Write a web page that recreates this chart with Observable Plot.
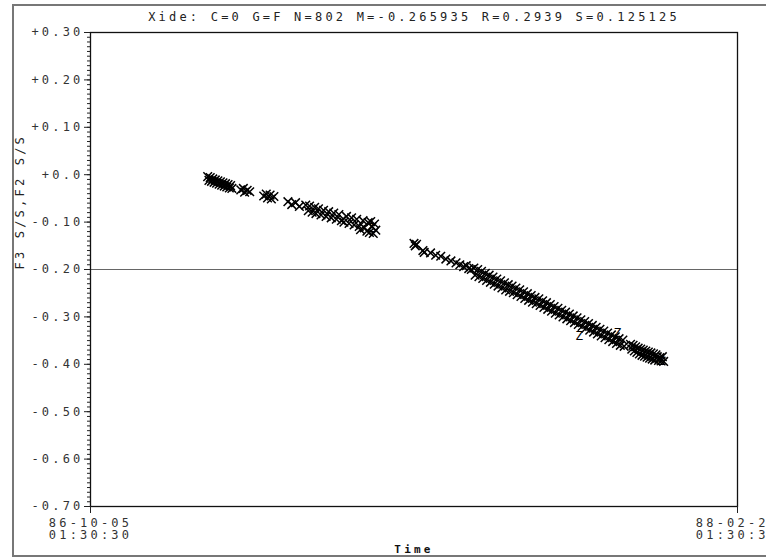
<!DOCTYPE html>
<html><head><meta charset="utf-8">
<script src="https://cdn.jsdelivr.net/npm/d3@7"></script>
<script src="https://cdn.jsdelivr.net/npm/@observablehq/plot@0.6"></script>
<style>
body{margin:0;background:#fff;overflow:hidden;width:766px;height:557px;}
#frame{position:absolute;left:12px;top:4px;width:800px;height:553px;border:2px solid #777;box-sizing:border-box;}
#chart{position:absolute;left:0;top:0;}
</style></head><body>
<div id="frame"></div>
<div id="chart"></div>
<script>
const titleText = "Xide: C=0 G=F N=802 M=-0.265935 R=0.2939 S=0.125125";
const yLabel = "F3 S/S,F2 S/S";
const xLabel = "Time";
const startDate = new Date(1986, 9, 5, 1, 30, 30);
const endDate = new Date(1988, 1, 25, 1, 30, 30);
const xTickLabels = ["86-10-05\n01:30:30", "88-02-25\n01:30:30"];
const yTicks = [0.3, 0.2, 0.1, 0.0, -0.1, -0.2, -0.3, -0.4, -0.5, -0.6, -0.7];
const yTickLabels = ["+0.30", "+0.20", "+0.10", "+0.0", "-0.10", "-0.20", "-0.30", "-0.40", "-0.50", "-0.60", "-0.70"];
const refLine = -0.2;

// F3 S/S (x markers): days after start, values
const f3Days = [
  92,93,94,95,96,97,98,99,100,101,102,103,104,105,106,107,108,109,110,111,
  118,120,121,123,125,
  136,138,139,141,142,144,
  155,158,161,164,
  169,171,172,174,176,177,179,181,183,185,187,189,191,
  193,195,197,199,201,203,205,207,209,211,212,214,215,217,218,219,220,221,222,223,224,
  254,255,256,261,262,267,271,275,279,283,287,290,293,295,297,299,
  301,302,304,305,307,308,310,311,313,314,316,317,319,320,322,323,325,326,328,329,
  331,332,334,335,337,338,340,341,343,344,346,347,349,350,352,353,355,356,358,359,
  361,362,364,365,367,368,370,371,373,374,376,377,379,380,382,383,385,386,388,389,
  391,392,394,395,397,398,400,401,403,404,406,407,409,410,412,413,415,416,418,419,
  424,425,426,427,428,429,430,431,432,433,434,435,436,437,438,439,440,441,442,443,
  444,445,446,447,448,449,450
];
const f3Vals = [
  -0.004,-0.012,-0.006,-0.014,-0.009,-0.016,-0.011,-0.018,-0.013,-0.020,-0.015,-0.022,-0.017,-0.024,-0.019,-0.026,-0.021,-0.028,-0.023,-0.029,
  -0.032,-0.029,-0.037,-0.033,-0.036,
  -0.045,-0.041,-0.049,-0.043,-0.051,-0.046,
  -0.057,-0.063,-0.059,-0.067,
  -0.064,-0.076,-0.066,-0.079,-0.069,-0.082,-0.072,-0.085,-0.075,-0.088,-0.078,-0.091,-0.081,
  -0.094,-0.084,-0.097,-0.100,-0.088,-0.103,-0.091,-0.106,-0.094,-0.109,-0.116,-0.097,-0.112,-0.119,-0.101,-0.122,-0.099,-0.110,-0.124,-0.104,-0.117,
  -0.145,-0.150,-0.147,-0.160,-0.164,-0.165,-0.170,-0.172,-0.178,-0.182,-0.186,-0.190,-0.194,-0.192,-0.198,-0.200,
  -0.197,-0.212,-0.200,-0.215,-0.204,-0.219,-0.208,-0.223,-0.212,-0.227,-0.216,-0.231,-0.220,-0.235,-0.224,-0.239,-0.228,-0.243,-0.232,-0.246,
  -0.235,-0.249,-0.239,-0.253,-0.243,-0.257,-0.247,-0.261,-0.251,-0.265,-0.255,-0.269,-0.259,-0.272,-0.262,-0.276,-0.266,-0.280,-0.270,-0.284,
  -0.274,-0.288,-0.278,-0.292,-0.282,-0.296,-0.286,-0.300,-0.290,-0.304,-0.294,-0.308,-0.298,-0.312,-0.302,-0.316,-0.306,-0.320,-0.310,-0.324,
  -0.314,-0.328,-0.318,-0.332,-0.322,-0.336,-0.326,-0.340,-0.330,-0.344,-0.334,-0.348,-0.338,-0.352,-0.342,-0.356,-0.346,-0.360,-0.349,-0.362,
  -0.358,-0.368,-0.360,-0.372,-0.363,-0.375,-0.366,-0.378,-0.368,-0.381,-0.370,-0.383,-0.372,-0.385,-0.374,-0.387,-0.376,-0.389,-0.378,-0.391,
  -0.380,-0.384,-0.392,-0.386,-0.393,-0.384,-0.394
];
// F2 S/S (Z markers)
const f2Days = [221, 385, 415, 449];
const f2Vals = [-0.113, -0.339, -0.333, -0.392];

const F3 = f3Days.map((d, i) => ({date: d3.timeDay.offset(startDate, d), value: f3Vals[i]}));
const F2 = f2Days.map((d, i) => ({date: d3.timeDay.offset(startDate, d), value: f2Vals[i]}));
const minorTicks = d3.range(-70, 31).map(d => d / 100);
const fmtY = d => yTickLabels[yTicks.findIndex(t => Math.abs(t - d) < 1e-9)];
const xTicks = [startDate, endDate];
const fmtX = d => xTickLabels[xTicks.findIndex(t => +t === +d)];

const chart = Plot.plot({
  width: 766, height: 557,
  marginLeft: 90, marginRight: 29, marginTop: 32, marginBottom: 51,
  style: {fontFamily: "DejaVu Sans Mono", fontSize: "12px", color: "#333", background: "transparent", letterSpacing: "3.2px"},
  x: {type: "time", domain: [startDate, endDate]},
  y: {domain: [-0.7, 0.3]},
  marks: [
    Plot.ruleY([refLine], {stroke: "#666", strokeWidth: 1}),
    Plot.frame({stroke: "#111", strokeWidth: 1.3}),
    Plot.axisY(minorTicks, {anchor: "left", tickSize: 3, text: null, label: null, stroke: "#222"}),
    Plot.axisY(yTicks, {anchor: "left", tickSize: 6, tickPadding: 1, tickFormat: fmtY, label: null, stroke: "#222", fill: "#333"}),
    Plot.axisX(xTicks, {anchor: "bottom", tickSize: 7, tickPadding: 5, tickFormat: fmtX, label: null, stroke: "#222", fill: "#333"}),
    Plot.dot(F3, {x: "date", y: "value", symbol: "times", r: 4, stroke: "black", strokeWidth: 1.5}),
    Plot.text(F2, {x: "date", y: "value", text: () => "Z", fontSize: 13, fill: "black", letterSpacing: 0}),
    Plot.text([titleText], {frameAnchor: "top", lineAnchor: "middle", dy: -15, fill: "#222"}),
    Plot.text([yLabel], {frameAnchor: "left", lineAnchor: "middle", rotate: -90, dx: -70, fill: "#222"}),
    Plot.text([xLabel], {frameAnchor: "bottom", lineAnchor: "middle", dy: 43, fill: "#111", fontWeight: "bold", fontSize: 11, letterSpacing: 1.5})
  ]
});
document.getElementById("chart").appendChild(chart);
</script></body></html>
